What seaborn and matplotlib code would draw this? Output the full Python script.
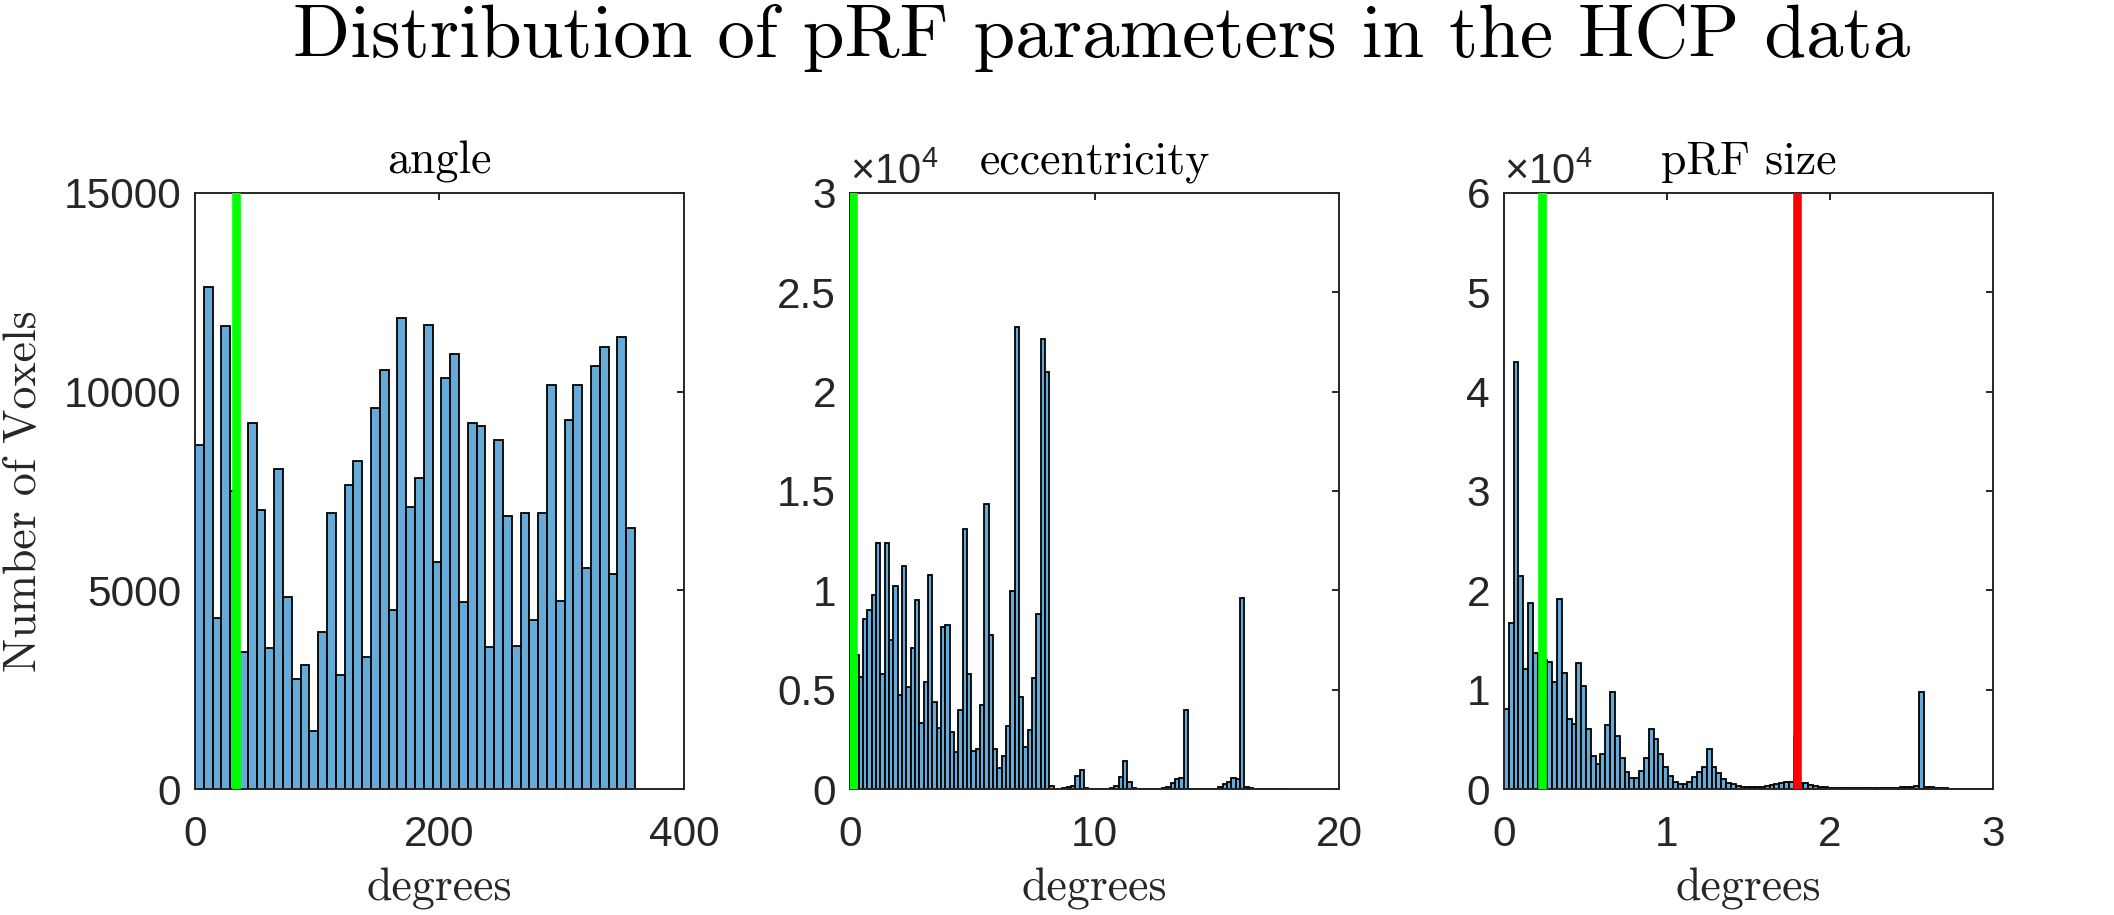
import numpy as np
import pandas as pd
import matplotlib
matplotlib.use("Agg")
import matplotlib.pyplot as plt
from matplotlib.ticker import FuncFormatter
import seaborn as sns

# --- data (voxel counts per histogram bin) ---
# polar angle, 50 bins over 0..360 deg
angle_counts = [8665, 12638, 4316, 11640, 7500, 3457, 9200, 7022, 3543, 8053,
                4832, 2781, 3125, 1471, 3941, 6947, 2867, 7645, 8257, 3329,
                9588, 10555, 4499, 11865, 7097, 7827, 11672, 5701, 10340, 10941,
                4703, 9223, 9127, 3565, 8794, 6872, 3597, 6947, 4263, 6947,
                10157, 4735, 9288, 10157, 5573, 10651, 11113, 5411, 11371, 6560]
angle_range = (0, 360)

# eccentricity, 101 bins over 0..17.9 deg (first bins sit under the green line)
ecc_counts = [3000, 6770, 5640, 8580, 9000, 9750, 12400, 5780, 12400, 7490, 10200,
              4720, 11200, 5140, 7120, 9530, 3330, 5390, 10790, 4360, 3080,
              8160, 8240, 2880, 1880, 3970, 13070, 5810, 1930, 1990, 4250,
              14320, 7740, 2010, 1040, 1660, 3170, 9970, 23230, 4640, 2090,
              2960, 5590, 8790, 22630, 20980, 130, 20, 20, 30, 80,
              170, 650, 955, 70, 20, 10, 10, 10, 10, 70,
              170, 620, 1410, 340, 70, 10, 10, 10, 10, 10,
              10, 30, 120, 285, 485, 570, 3970, 20, 10, 10,
              10, 10, 10, 20, 115, 235, 370, 535, 500, 9600,
              80, 35, 10, 10, 10, 10, 10, 10, 10, 10]
ecc_range = (0, 17.9)

# pRF size, 101 bins over 0..2.993 deg
size_counts = [8100, 16740, 42950, 21440, 12050, 18690, 13660, 13500, 13000, 12820, 10740,
               19090, 11710, 7010, 6540, 12720, 10400, 6010, 3360, 2520, 3520,
               6440, 9800, 5370, 3150, 1680, 1140, 1140, 1810, 3090, 6010,
               5030, 3490, 2250, 1340, 740, 500, 500, 740, 1170, 1740,
               2250, 3990, 2250, 1580, 1010, 640, 470, 340, 230, 170,
               170, 200, 230, 300, 400, 500, 600, 670, 740, 5300,
               600, 570, 450, 350, 250, 180, 120, 90, 70, 60,
               60, 60, 60, 60, 70, 80, 90, 100, 110, 120,
               140, 160, 200, 250, 270, 9730, 250, 200, 150, 100,
               70, 50, 30, 10, 10, 10, 10, 10, 10, 10]
size_range = (0, 2.993)

# reference lines
angle_green = 34
ecc_green = 0.13
size_green = 0.232
size_red = 1.80

titles = ["angle", "eccentricity", "pRF size"]

# --- style ---
sns.set_style("white")
plt.rcParams["font.family"] = ["Liberation Sans", "DejaVu Sans"]
plt.rcParams["mathtext.fontset"] = "custom"
plt.rcParams["mathtext.rm"] = "Liberation Sans"
plt.rcParams["mathtext.it"] = "Liberation Sans:italic"
serif = "cmr10"
axcol = "#262626"
bar_color = "#66AAD7"

fig = plt.figure(figsize=(21.14, 9.15), dpi=100)
lefts = [0.0922, 0.4021, 0.7114]
axes = [fig.add_axes([l, 0.1377, 0.2313, 0.6514]) for l in lefts]


def draw_hist(ax, counts, rng):
    width = (rng[1] - rng[0]) / len(counts)
    centers = rng[0] + width * (np.arange(len(counts)) + 0.5)
    df = pd.DataFrame({"x": centers, "n": counts})
    sns.histplot(data=df, x="x", weights="n", bins=len(counts), binrange=rng,
                 ax=ax, color=bar_color, edgecolor="black", linewidth=1.3,
                 alpha=1)


draw_hist(axes[0], angle_counts, angle_range)
draw_hist(axes[1], ecc_counts, ecc_range)
draw_hist(axes[2], size_counts, size_range)

axes[0].axvline(angle_green, color="#00FF00", lw=6.2, zorder=3)
axes[1].axvline(ecc_green, color="#00FF00", lw=6.2, zorder=3)
axes[2].axvline(size_green, color="#00FF00", lw=6.2, zorder=3)
axes[2].axvline(size_red, color="#FF0000", lw=6.2, zorder=3)

axes[0].set_xlim(0, 400)
axes[0].set_xticks([0, 200, 400])
axes[0].set_ylim(0, 15000)
axes[0].set_yticks([0, 5000, 10000, 15000])

axes[1].set_xlim(0, 20)
axes[1].set_xticks([0, 10, 20])
axes[1].set_ylim(0, 30000)
axes[1].set_yticks(np.arange(0, 30001, 5000))

axes[2].set_xlim(0, 3)
axes[2].set_xticks([0, 1, 2, 3])
axes[2].set_ylim(0, 60000)
axes[2].set_yticks(np.arange(0, 60001, 10000))

sci = FuncFormatter(lambda v, p: f"{v / 1e4:g}")
for ax in axes[1:]:
    ax.yaxis.set_major_formatter(sci)
    ax.text(0.0, 1.0, r"$\times10^{4}$", transform=ax.transAxes,
            ha="left", va="bottom", fontsize=30, color=axcol)

for ax, t in zip(axes, titles):
    ax.set_title(t, fontfamily=serif, fontsize=33, pad=14, color="black")
    ax.set_xlabel("degrees", fontfamily=serif, fontsize=33, labelpad=9, color=axcol)
    ax.set_ylabel("")
    for s in ax.spines.values():
        s.set_visible(True)
        s.set_color(axcol)
        s.set_linewidth(1.4)
    ax.tick_params(direction="in", top=True, right=True, length=5, width=1.4,
                   color=axcol, labelcolor=axcol, labelsize=30.5)
    ax.tick_params(axis="x", pad=19)
    ax.tick_params(axis="y", pad=10)
    ax.grid(False)

axes[0].set_ylabel("Number of Voxels", fontfamily=serif, fontsize=33,
                   labelpad=14, color=axcol)

fig.text(0.521, 0.938, "Distribution of pRF parameters in the HCP data",
         fontfamily=serif, fontsize=54, ha="center", va="baseline", color="black")

fig.savefig("out.png", dpi=100, facecolor="white")
